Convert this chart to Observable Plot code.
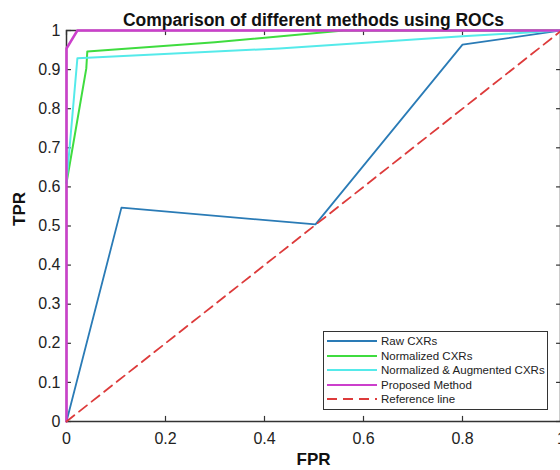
<!DOCTYPE html>
<html>
<head>
<meta charset="utf-8">
<script src="https://cdn.jsdelivr.net/npm/d3@7"></script>
<script src="https://cdn.jsdelivr.net/npm/@observablehq/plot@0.6"></script>
<style>
  html, body { margin: 0; padding: 0; background: #fff; }
  #wrap { position: relative; width: 560px; height: 470px; overflow: hidden; font-family: "Liberation Sans", Arial, sans-serif; }
  #legend { position: absolute; left: 323px; top: 331px; width: 223px; height: 75px; border: 1.5px solid #333; background: #fff; box-sizing: content-box; padding-top: 2px; }
  .row { display: flex; align-items: center; height: 14.5px; font-size: 11.5px; color: #222; }
  .row svg { margin-left: 3px; margin-right: 4px; }
</style>
</head>
<body>
<div id="wrap"></div>
<script>
const title = "Comparison of different methods using ROCs";
const seriesNames = ["Raw CXRs", "Normalized CXRs", "Normalized & Augmented CXRs", "Proposed Method", "Reference line"];
const seriesColors = ["#2a7bb6", "#3fdc3f", "#55eaea", "#cc3fcc", "#dd3b3b"];

const rawFPR = [0, 0.111, 0.503, 0.8, 1];
const rawTPR = [0, 0.547, 0.504, 0.964, 1];
const normFPR = [0, 0.04, 0.042, 0.3, 0.56, 1];
const normTPR = [0.61, 0.903, 0.946, 0.97, 1, 1];
const augFPR = [0, 0.022, 0.43, 0.8, 1];
const augTPR = [0.61, 0.929, 0.954, 0.985, 1];
const propFPR = [0, 0, 0.022, 1];
const propTPR = [0, 0.954, 1, 1];
const refFPR = [0, 1];
const refTPR = [0, 1];

const xTicks = [0, 0.2, 0.4, 0.6, 0.8, 1];
const yTicks = [0, 0.1, 0.2, 0.3, 0.4, 0.5, 0.6, 0.7, 0.8, 0.9, 1];

const toPts = (xs, ys) => xs.map((x, i) => ({x, y: ys[i]}));
const series = [
  toPts(rawFPR, rawTPR),
  toPts(normFPR, normTPR),
  toPts(augFPR, augTPR),
  toPts(propFPR, propTPR),
  toPts(refFPR, refTPR)
];
const widths = [1.8, 2, 2, 2.5, 1.8];

const fmt = d => d === 0 ? "0" : d === 1 ? "1" : String(d);

const chart = Plot.plot({
  width: 560,
  height: 470,
  marginTop: 30,
  marginLeft: 66,
  marginRight: 0,
  marginBottom: 49,
  style: {fontFamily: "Liberation Sans, Arial, sans-serif", background: "#fff", overflow: "visible"},
  x: {domain: [0, 1], range: [66, 561]},
  y: {domain: [0, 1]},
  marks: [
    Plot.frame({stroke: "#333", strokeWidth: 1.5}),
    // inward ticks
    Plot.ruleX(xTicks, {y1: 0, y2: 0.013, stroke: "#333", strokeWidth: 1.2}),
    Plot.ruleX(xTicks, {y1: 1, y2: 0.987, stroke: "#333", strokeWidth: 1.2}),
    Plot.ruleY(yTicks, {x1: 0, x2: 0.01, stroke: "#333", strokeWidth: 1.2}),
    Plot.ruleY(yTicks, {x1: 1, x2: 0.99, stroke: "#333", strokeWidth: 1.2}),
    Plot.axisX({ticks: xTicks, tickSize: 0, tickPadding: 11, tickFormat: fmt, fontSize: 16, color: "#222", label: null}),
    Plot.axisY({ticks: yTicks, tickSize: 0, tickPadding: 6, tickFormat: fmt, fontSize: 16, color: "#222", label: null}),
    ...series.slice(0, 4).map((s, i) => Plot.line(s, {x: "x", y: "y", stroke: seriesColors[i], strokeWidth: widths[i]})),
    Plot.line(series[4], {x: "x", y: "y", stroke: seriesColors[4], strokeWidth: widths[4], strokeDasharray: "10,6"}),
    Plot.text([title], {frameAnchor: "top", dy: -17, fontSize: 17.5, fontWeight: "bold", fill: "#111", text: d => d}),
    Plot.text(["FPR"], {frameAnchor: "bottom", dy: 43, fontSize: 17, fontWeight: "bold", fill: "#111", text: d => d}),
    Plot.text(["TPR"], {frameAnchor: "left", dx: -47, dy: 0, rotate: -90, fontSize: 17, fontWeight: "bold", fill: "#111", text: d => d})
  ]
});

const wrap = document.getElementById("wrap");
wrap.appendChild(chart);

const legend = document.createElement("div");
legend.id = "legend";
seriesNames.forEach((name, i) => {
  const row = document.createElement("div");
  row.className = "row";
  const dash = i === 4 ? ' stroke-dasharray="10,6"' : "";
  row.innerHTML = `<svg width="50" height="6"><line x1="0" y1="3" x2="50" y2="3" stroke="${seriesColors[i]}" stroke-width="2"${dash}/></svg><span>${name.replace("&", "&amp;")}</span>`;
  legend.appendChild(row);
});
wrap.appendChild(legend);
</script>
</body>
</html>
